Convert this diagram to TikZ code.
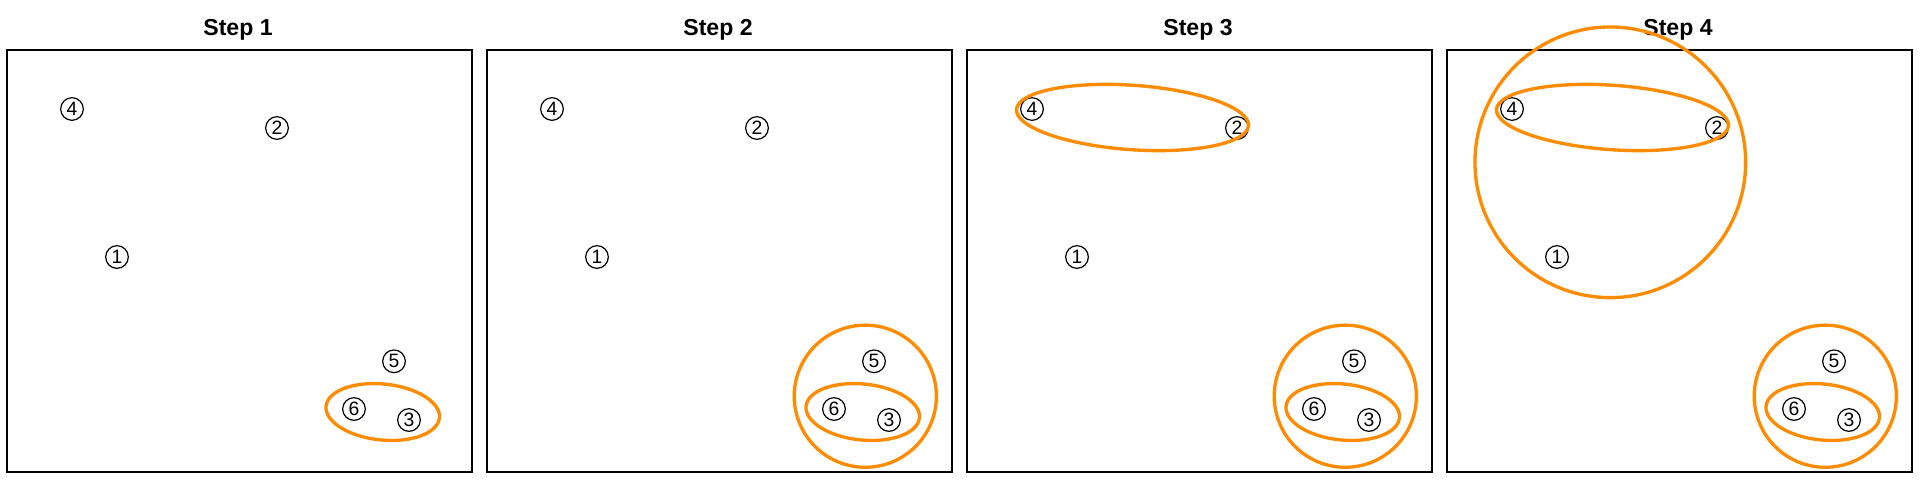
\documentclass[tikz,border=0pt]{standalone}
\usepackage{fontspec}
\setmainfont{Liberation Sans}
\definecolor{orangec}{HTML}{FF8C00}
\begin{document}
\begin{tikzpicture}[x=0.75pt,y=-0.75pt,
  pt/.style={draw, circle, line width=0.9pt, minimum size=17pt, inner sep=0pt, font=\fontsize{14.5}{14.5}\selectfont},
  frame/.style={draw=black, line width=1.3pt},
  title/.style={anchor=base, inner sep=0pt, font=\fontsize{17.3}{17.3}\bfseries\selectfont},
  clus/.style={draw=orangec, line width=2.5pt}]
\useasboundingbox[fill=white] (0,0) rectangle (1920,480);
\foreach \i in {1,...,4} {
 \begin{scope}[xshift={(\i-1)*360pt}]
  \draw[frame] (7,50) rectangle (472,472);
  \node[title] (t\i) at (238,35.7) {Step \i};
  \node[pt] (n\i a) at (117,257) {1};
  \node[pt] (n\i b) at (277,128) {2};
  \node[pt] (n\i c) at (409,420) {3};
  \node[pt] (n\i d) at (72,109) {4};
  \node[pt] (n\i e) at (394,361.3) {5};
  \node[pt] (n\i f) at (354,409) {6};
  \draw[clus, rotate around={-5.9:(382.75,412)}] (382.75,412) ellipse [x radius=42.75pt, y radius=21pt];
  \ifnum\i>1
   \draw[clus] (385.3,396.2) circle [radius=53.3pt];
  \fi
  \ifnum\i>2
   \draw[clus, rotate around={-4:(172.5,117.5)}] (172.5,117.5) ellipse [x radius=87.2pt, y radius=24.15pt];
  \fi
  \ifnum\i>3
   \draw[clus] (170.3,162.3) circle [radius=101.5pt];
  \fi
 \end{scope}
}
\end{tikzpicture}
\end{document}
